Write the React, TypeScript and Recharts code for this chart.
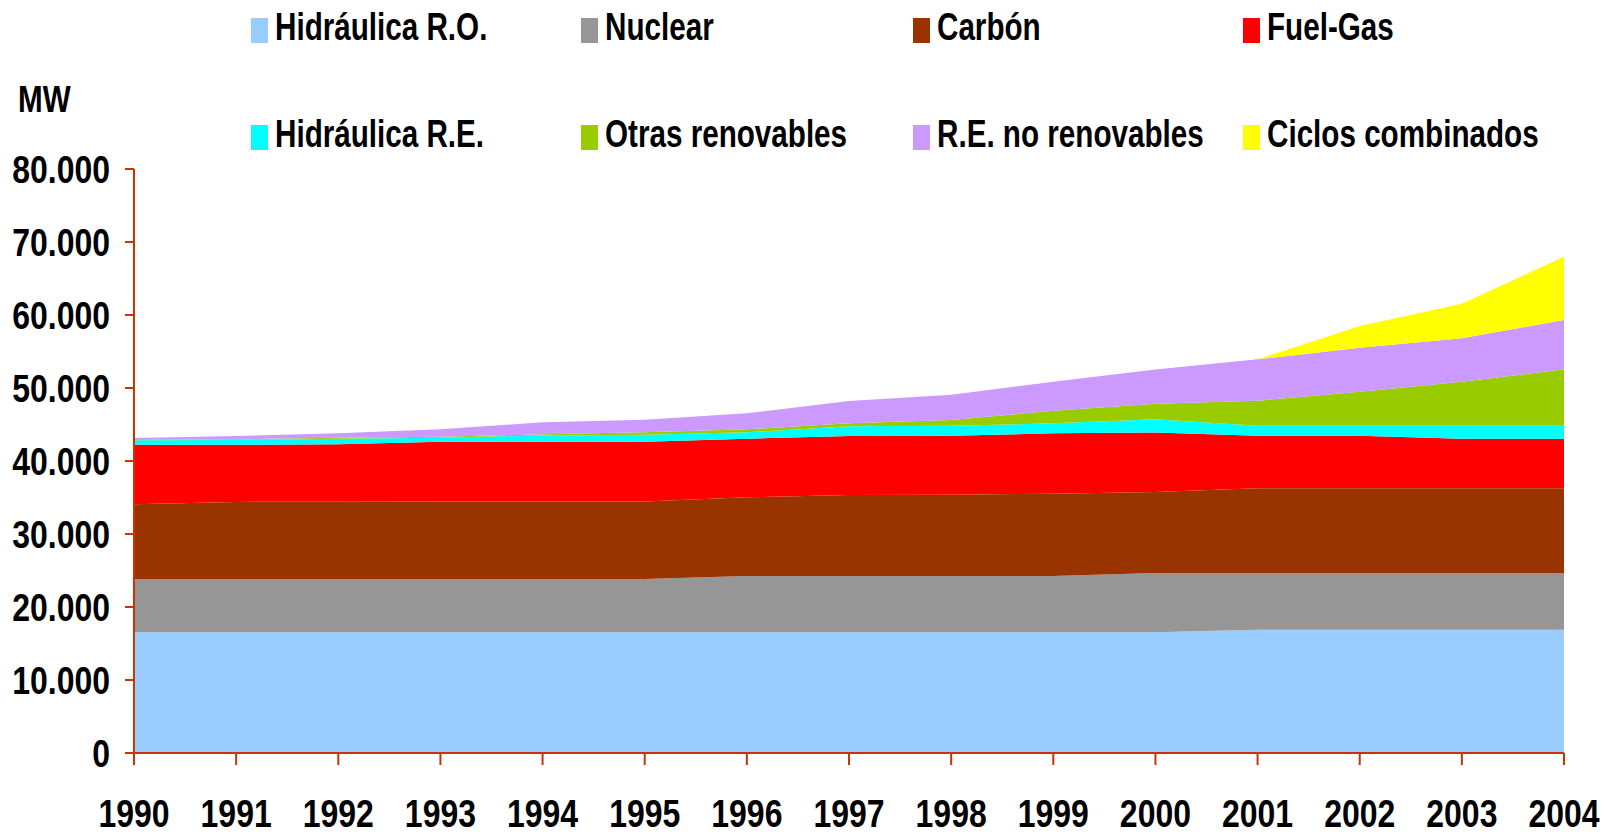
import React from 'react';
import { AreaChart, Area, XAxis, YAxis, Legend } from 'recharts';

const years = ['1990', '1991', '1992', '1993', '1994', '1995', '1996', '1997', '1998', '1999', '2000', '2001', '2002', '2003', '2004'];

const hidraulicaRO = [16530, 16530, 16530, 16530, 16530, 16530, 16530, 16530, 16530, 16530, 16530, 16890, 16890, 16890, 16890];
const nuclear = [7310, 7310, 7310, 7310, 7310, 7310, 7720, 7720, 7720, 7720, 8130, 7770, 7770, 7770, 7770];
const carbon = [10230, 10560, 10580, 10610, 10610, 10610, 10770, 11090, 11130, 11270, 11090, 11600, 11600, 11600, 11600];
const fuelGas = [8160, 7830, 7860, 8200, 8200, 8200, 8040, 8080, 8090, 8270, 8150, 7210, 7210, 6800, 6800];
const hidraulicaRE = [600, 650, 780, 540, 860, 950, 870, 1330, 1370, 1370, 1810, 1370, 1370, 1780, 1780];
const otrasRenovables = [50, 90, 130, 140, 140, 350, 410, 410, 780, 1730, 2120, 3420, 4650, 6020, 7720];
const reNoRenovables = [270, 450, 600, 1010, 1650, 1690, 2190, 3060, 3460, 3970, 4690, 5670, 6030, 5940, 6755];
const ciclosCombinados = [0, 0, 0, 0, 0, 0, 0, 0, 0, 0, 0, 0, 2970, 4750, 8675];

const seriesKeys = ['hro', 'nuc', 'car', 'fg', 'hre', 'otr', 'renr', 'cc'];
const seriesNames = ['Hidráulica R.O.', 'Nuclear', 'Carbón', 'Fuel-Gas', 'Hidráulica R.E.', 'Otras renovables', 'R.E. no renovables', 'Ciclos combinados'];
const seriesColors = ['#99CCFF', '#969696', '#993300', '#FF0000', '#00FFFF', '#99CC00', '#CC99FF', '#FFFF00'];
const seriesValues = [hidraulicaRO, nuclear, carbon, fuelGas, hidraulicaRE, otrasRenovables, reNoRenovables, ciclosCombinados];

const yTicks = [0, 10000, 20000, 30000, 40000, 50000, 60000, 70000, 80000];
const yTickLabels = ['0', '10.000', '20.000', '30.000', '40.000', '50.000', '60.000', '70.000', '80.000'];
const unitLabel = 'MW';

const data = years.map((year, i) => {
  const row: Record<string, string | number> = { year };
  seriesKeys.forEach((k, s) => {
    row[k] = seriesValues[s][i];
  });
  return row;
});

const FONT = '"Liberation Sans", Arial, sans-serif';
const AXIS = '#CC3300';
const NARROW = 0.82;

const legendCols = [251, 581, 913, 1243];
const legendRows = [40, 147];

const XTick = (props: any) => {
  const { x, y, payload } = props;
  return (
    <text
      transform={`translate(${x},${y}) scale(${NARROW},1)`}
      x={0}
      y={0}
      dy="0.71em"
      textAnchor="middle"
      fontFamily={FONT}
      fontWeight="bold"
      fontSize={39}
      fill="#000"
    >
      {payload.value}
    </text>
  );
};

const YTick = (props: any) => {
  const { x, y, payload } = props;
  return (
    <text
      transform={`translate(${x},${y}) scale(${NARROW},1)`}
      x={0}
      y={0}
      dy="0.36em"
      textAnchor="end"
      fontFamily={FONT}
      fontWeight="bold"
      fontSize={39}
      fill="#000"
    >
      {yTickLabels[yTicks.indexOf(payload.value)]}
    </text>
  );
};

const LegendContent = () => (
  <svg width={1607} height={170} style={{ position: 'absolute', left: 0, top: 0, overflow: 'visible' }}>
    <text transform={`translate(18,112) scale(0.8,1)`} x={0} y={0} fontFamily={FONT} fontWeight="bold" fontSize={37} fill="#000">{unitLabel}</text>
    {seriesNames.map((name, i) => {
      const col = i % 4;
      const row = Math.floor(i / 4);
      const x = legendCols[col];
      const base = legendRows[row];
      return (
        <g key={name}>
          <rect x={x} y={base - 22} width={17} height={25} fill={seriesColors[i]} />
          <text
            transform={`translate(${x + 24},${base}) scale(0.78,1)`}
            x={0}
            y={0}
            fontFamily={FONT}
            fontWeight="bold"
            fontSize={38}
            fill="#000"
          >
            {name}
          </text>
        </g>
      );
    })}
  </svg>
);

export default function App() {
  return (
    <div style={{ position: 'absolute', left: 0, top: 0, width: 1607, height: 834, background: '#fff' }}>
      <AreaChart width={1607} height={834} data={data} margin={{ top: 169, right: 43, bottom: 0, left: 0 }}>
        <XAxis
          dataKey="year"
          height={81}
          axisLine={{ stroke: AXIS, strokeWidth: 2 }}
          tickLine={{ stroke: AXIS, strokeWidth: 2 }}
          tickSize={12}
          tickMargin={34}
          interval={0}
          tick={<XTick />}
        />
        <YAxis
          width={134}
          domain={[0, 80000]}
          ticks={yTicks}
          interval={0}
          axisLine={{ stroke: AXIS, strokeWidth: 2 }}
          tickLine={{ stroke: AXIS, strokeWidth: 2 }}
          tickSize={9}
          tickMargin={15}
          tick={<YTick />}
        />
        <Legend
          verticalAlign="top"
          wrapperStyle={{ position: 'absolute', top: 0, left: 0, width: 0, height: 0, overflow: 'visible' }}
          content={<LegendContent />}
        />
        {seriesKeys.map((k, i) => (
          <Area
            key={k}
            type="linear"
            dataKey={k}
            name={seriesNames[i]}
            stackId="1"
            stroke="none"
            fill={seriesColors[i]}
            fillOpacity={1}
            isAnimationActive={false}
          />
        ))}
      </AreaChart>
    </div>
  );
}
